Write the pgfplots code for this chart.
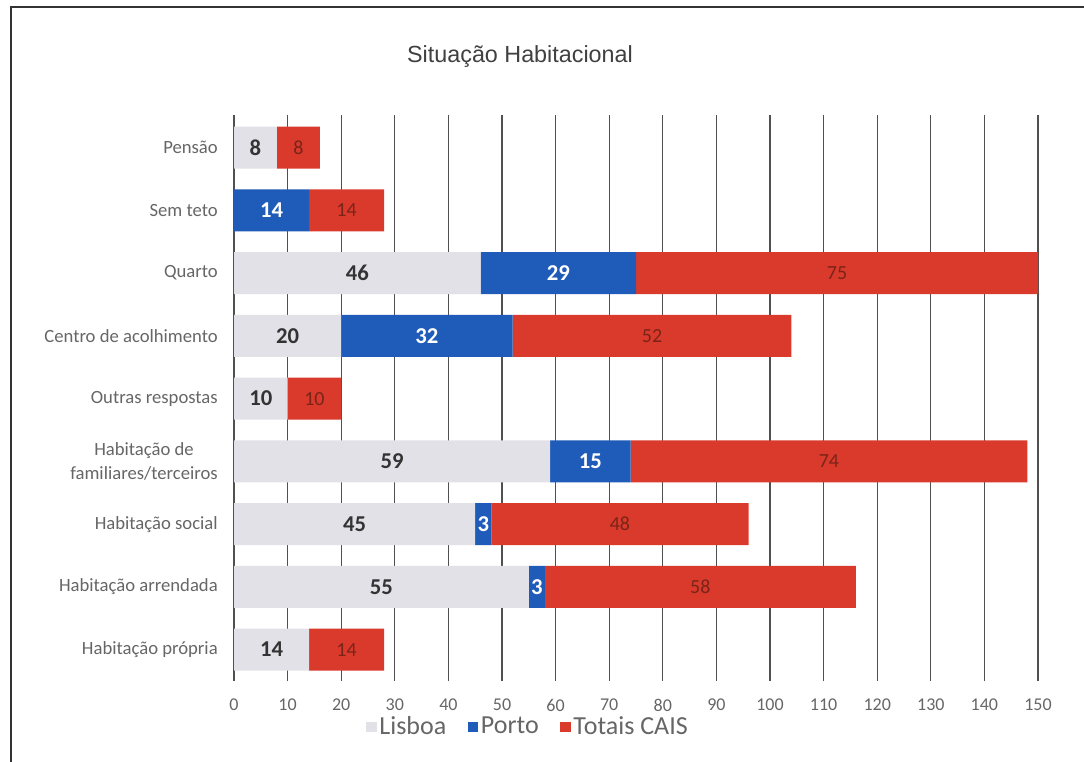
\documentclass[border=0pt]{standalone}
\usepackage{pgfplots}
\pgfplotsset{compat=1.18}
\usepackage{pgfplotstable}
\usepackage{fontspec}
\setmainfont{Carlito}
\newfontfamily\arial{Liberation Sans}

\definecolor{lis}{HTML}{E3E1E8}
\definecolor{por}{HTML}{1F5BB8}
\definecolor{tot}{HTML}{D93A2B}
\definecolor{totlab}{HTML}{7A2418}
\definecolor{gridc}{HTML}{505050}
\definecolor{txt}{HTML}{666666}

% y: 0 = Habitacao propria (bottom) ... 8 = Pensao (top)
\pgfplotstableread{
y lis por tot
0 14 0 14
1 55 3 58
2 45 3 48
3 59 15 74
4 10 0 10
5 20 32 52
6 46 29 75
7 0 14 14
8 8 0 8
}\situacao

\begin{document}
\begin{tikzpicture}
\begin{scope}[x=0.75pt,y=0.75pt]
  \path[use as bounding box] (0,0) rectangle (1084,762);
  \draw[line width=1.5pt, black!80] (11,0) -- (11,755) -- (1084,755);
  \node[font=\arial\fontsize{17.5}{20}\selectfont, text=black!75] at (520,705) {Situação Habitacional};
\end{scope}

\begin{axis}[
  at={(175.5pt,60.75pt)}, anchor=south west,
  scale only axis, width=603pt, height=424.5pt,
  xbar stacked, bar width=0.67,
  xmin=0, xmax=150, ymin=-0.5, ymax=8.52,
  xtick={0,10,...,150},
  ytick={0,...,8},
  yticklabels={Habitação própria, Habitação arrendada, Habitação social,
    {Habitação de\\familiares/terceiros}, Outras respostas,
    Centro de acolhimento, Quarto, Sem teto, Pensão},
  axis line style={draw=none},
  major tick length=0pt,
  xmajorgrids, grid style={gridc, line width=0.9pt},
  /pgf/number format/assume math mode=true,
  xticklabel style={font=\fontsize{13.5}{16}\selectfont, text=txt, inner sep=0pt, yshift=-13.5pt},
  yticklabel style={font=\fontsize{14}{18}\selectfont, text=txt, align=center, inner sep=0pt, xshift=-12pt},
  legend style={at={(0.366,-0.08)}, anchor=center, draw=none, fill=none,
    legend columns=-1, font=\fontsize{19.5}{21}\selectfont, text=txt,
    nodes={inner sep=2pt},
    /tikz/every even column/.append style={column sep=14pt}},
  legend image code/.code={\fill[#1] (0pt,-4.5pt) rectangle (8pt,3.5pt);},
  point meta=explicit,
  nodes near coords,
]

\addplot[fill=lis, draw=none,
  every node near coord/.append style={anchor=center,
    font=\bfseries\fontsize{17}{17}\selectfont, text=black!80}]
  table[x=lis, y=y, meta=lis] {\situacao};

\addplot[fill=por, draw=none,
  every node near coord/.append style={anchor=center,
    font=\bfseries\fontsize{17}{17}\selectfont, text=white}]
  table[x=por, y=y, meta=por] {\situacao};

\addplot[fill=tot, draw=none,
  every node near coord/.append style={anchor=center,
    font=\fontsize{15}{15}\selectfont, text=totlab}]
  table[x=tot, y=y, meta=tot] {\situacao};

\legend{Lisboa, Porto, Totais CAIS}
\end{axis}
\end{tikzpicture}
\end{document}
